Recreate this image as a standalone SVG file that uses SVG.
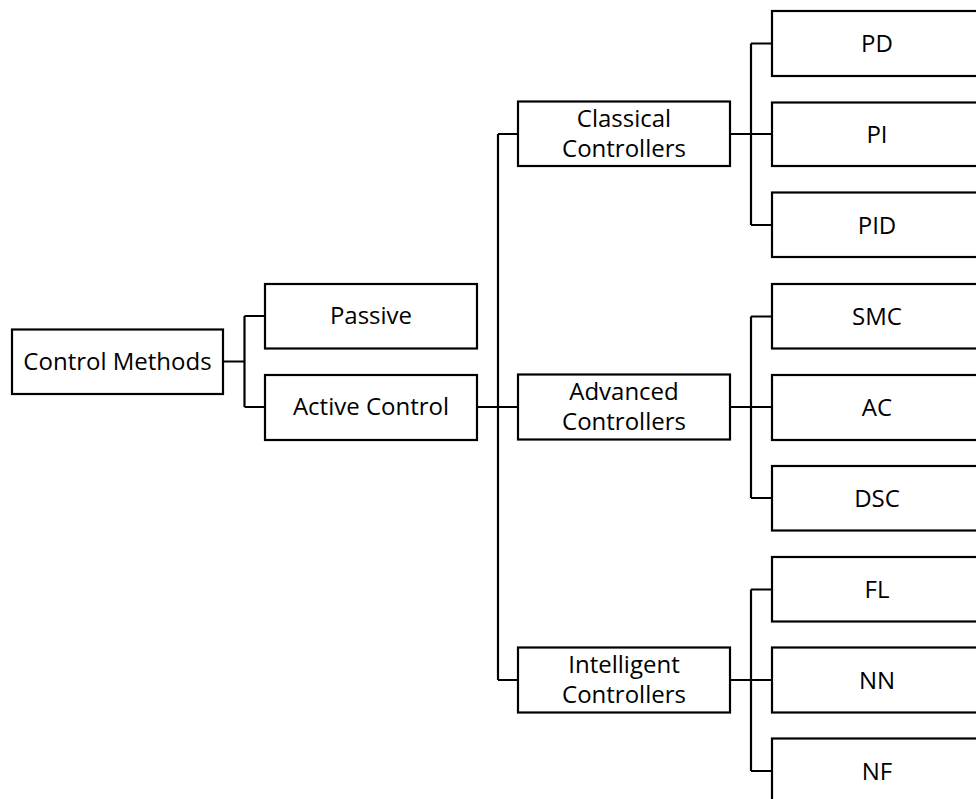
<svg xmlns="http://www.w3.org/2000/svg" width="976" height="799" viewBox="0 0 976 799">
<style>
rect{fill:#fff;stroke:#000;stroke-width:2.2}
text{font-family:"Open Sans","Noto Sans","Liberation Sans",sans-serif;font-size:24px;fill:#000;text-anchor:middle}
.c path{fill:none;stroke:#000;stroke-width:2.2}
</style>
<rect x="0" y="0" width="976" height="799" style="stroke:none"/>
<g class="c" id="connectors">
<path d="M223 361.5H244.5M244.5 316V407M244.5 316H265M244.5 407H265"/>
<path d="M477 407H518M498 134V680M498 134H518M498 680H518"/>
<path d="M730 134H772M751 43.5V225M751 43.5H772M751 225H772"/>
<path d="M730 407H772M751 316.5V498M751 316.5H772M751 498H772"/>
<path d="M730 680H772M751 589.5V771M751 589.5H772M751 771H772"/>
</g>
<g id="control-methods"><rect x="12" y="329.5" width="211" height="64.5"/><text x="117.5" y="369.5">Control Methods</text></g>
<g id="passive"><rect x="265" y="284" width="212" height="64.5"/><text x="371" y="324">Passive</text></g>
<g id="active-control"><rect x="265" y="375" width="212" height="65"/><text x="371" y="415">Active Control</text></g>
<g id="classical"><rect x="518" y="101.5" width="212" height="64.5"/><text x="624" y="127">Classical</text><text x="624" y="157">Controllers</text></g>
<g id="advanced"><rect x="518" y="374.5" width="212" height="65"/><text x="624" y="400">Advanced</text><text x="624" y="430">Controllers</text></g>
<g id="intelligent"><rect x="518" y="647.5" width="212" height="65"/><text x="624" y="673">Intelligent</text><text x="624" y="703">Controllers</text></g>
<g id="pd"><rect x="772" y="11" width="212" height="65"/><text x="877" y="52">PD</text></g>
<g id="pi"><rect x="772" y="102.5" width="212" height="63.5"/><text x="877" y="143">PI</text></g>
<g id="pid"><rect x="772" y="192.5" width="212" height="64.5"/><text x="877" y="234">PID</text></g>
<g id="smc"><rect x="772" y="284" width="212" height="64.5"/><text x="877" y="325">SMC</text></g>
<g id="ac"><rect x="772" y="375" width="212" height="65"/><text x="877" y="416">AC</text></g>
<g id="dsc"><rect x="772" y="466" width="212" height="64.5"/><text x="877" y="507">DSC</text></g>
<g id="fl"><rect x="772" y="557" width="212" height="64.5"/><text x="877" y="598">FL</text></g>
<g id="nn"><rect x="772" y="647.5" width="212" height="65"/><text x="877" y="689">NN</text></g>
<g id="nf"><rect x="772" y="738.5" width="212" height="65"/><text x="877" y="780">NF</text></g>
</svg>
